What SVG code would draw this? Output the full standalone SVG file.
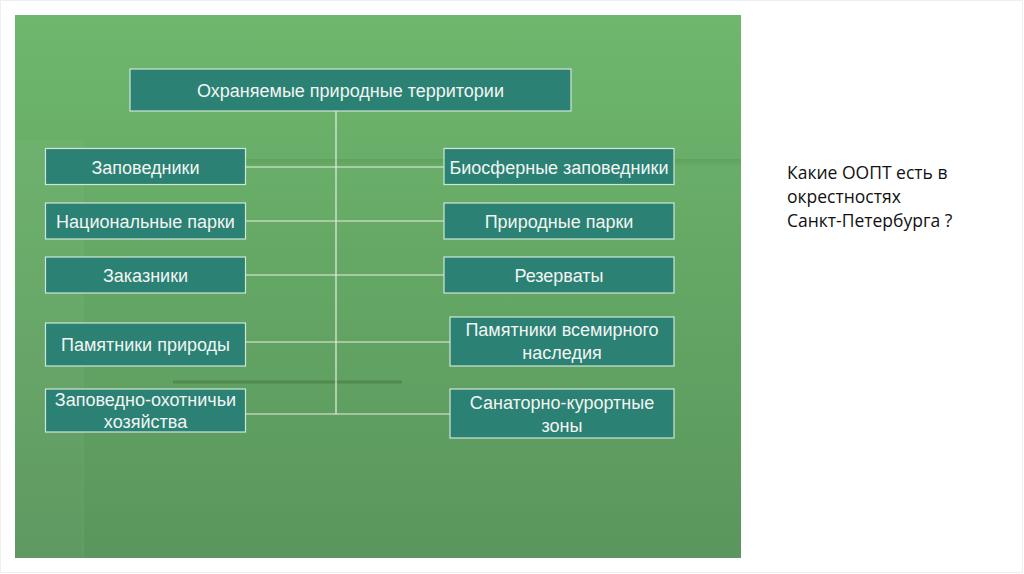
<svg xmlns="http://www.w3.org/2000/svg" width="1024" height="574" viewBox="0 0 1024 574">
<defs>
<linearGradient id="bg" x1="0" y1="0" x2="0" y2="1">
<stop offset="0" stop-color="#6eb76d"/>
<stop offset="0.45" stop-color="#65a865"/>
<stop offset="1" stop-color="#5a965d"/>
</linearGradient>
<linearGradient id="band" x1="0" y1="0" x2="0" y2="1">
<stop offset="0" stop-color="#4f8a50" stop-opacity="0.35"/>
<stop offset="1" stop-color="#4f8a50" stop-opacity="0"/>
</linearGradient>
</defs>
<style>
.box{fill:#2a8174;stroke:#cfe6d6;stroke-width:1.2}
.t{font-family:"Liberation Sans",Arial,sans-serif;font-size:18px;fill:#f2f5f2;text-anchor:middle}
.c{stroke:#e6efe0;stroke-width:1.2;fill:none}
.q{font-family:"Open Sans","Noto Sans",sans-serif;font-size:17.5px;fill:#111}
</style>
<rect x="0" y="0" width="1024" height="574" fill="#ffffff"/>
<rect x="0.5" y="0.5" width="1022" height="572" fill="none" stroke="#eef0ee" stroke-width="1"/>
<g id="background">
<rect x="15" y="15" width="726" height="543" fill="url(#bg)"/>
<rect x="15" y="140" width="68" height="418" fill="#ffffff" opacity="0.035"/>
<line x1="83" y1="140" x2="83" y2="558" stroke="#79bd78" stroke-width="1" opacity="0.3"/>
<rect x="245" y="159" width="496" height="8" fill="url(#band)"/>
<line x1="173" y1="382" x2="402" y2="382" stroke="#4a8149" stroke-width="3" opacity="0.7"/>
</g>
<g id="connectors">
<line class="c" x1="336" y1="111" x2="336" y2="414"/>
<line class="c" x1="245" y1="167" x2="444" y2="167"/>
<line class="c" x1="245" y1="221" x2="444" y2="221"/>
<line class="c" x1="245" y1="275" x2="444" y2="275"/>
<line class="c" x1="245" y1="342" x2="450" y2="342"/>
<line class="c" x1="245" y1="414" x2="450" y2="414"/>
</g>
<g id="root"><rect class="box" x="130" y="69" width="441" height="42"/><text class="t" x="350.5" y="97">Охраняемые природные территории</text></g>
<g id="l1"><rect class="box" x="45.5" y="148.5" width="200" height="36"/><text class="t" x="145.5" y="173.5">Заповедники</text></g>
<g id="l2"><rect class="box" x="45.5" y="203" width="200" height="36"/><text class="t" x="145.5" y="228">Национальные парки</text></g>
<g id="l3"><rect class="box" x="45.5" y="257" width="200" height="36"/><text class="t" x="145.5" y="282">Заказники</text></g>
<g id="l4"><rect class="box" x="45.5" y="323" width="200" height="43"/><text class="t" x="145.5" y="351">Памятники природы</text></g>
<g id="l5"><rect class="box" x="45.5" y="389" width="200" height="43"/><text class="t" x="145.5" y="406">Заповедно-охотничьи</text><text class="t" x="145.5" y="428">хозяйства</text></g>
<g id="r1"><rect class="box" x="444" y="148.5" width="230" height="36"/><text class="t" x="559" y="173.5">Биосферные заповедники</text></g>
<g id="r2"><rect class="box" x="444" y="203" width="230" height="36"/><text class="t" x="559" y="228">Природные парки</text></g>
<g id="r3"><rect class="box" x="444" y="257" width="230" height="36"/><text class="t" x="559" y="282">Резерваты</text></g>
<g id="r4"><rect class="box" x="450" y="317" width="224" height="49"/><text class="t" x="562" y="336">Памятники всемирного</text><text class="t" x="562" y="359">наследия</text></g>
<g id="r5"><rect class="box" x="450" y="389" width="224" height="49"/><text class="t" x="562" y="409">Санаторно-курортные</text><text class="t" x="562" y="432">зоны</text></g>
<g id="question">
<text class="q" x="787" y="179">Какие ООПТ есть в</text>
<text class="q" x="787" y="203">окрестностях</text>
<text class="q" x="787" y="227">Санкт-Петербурга ?</text>
</g>
</svg>
